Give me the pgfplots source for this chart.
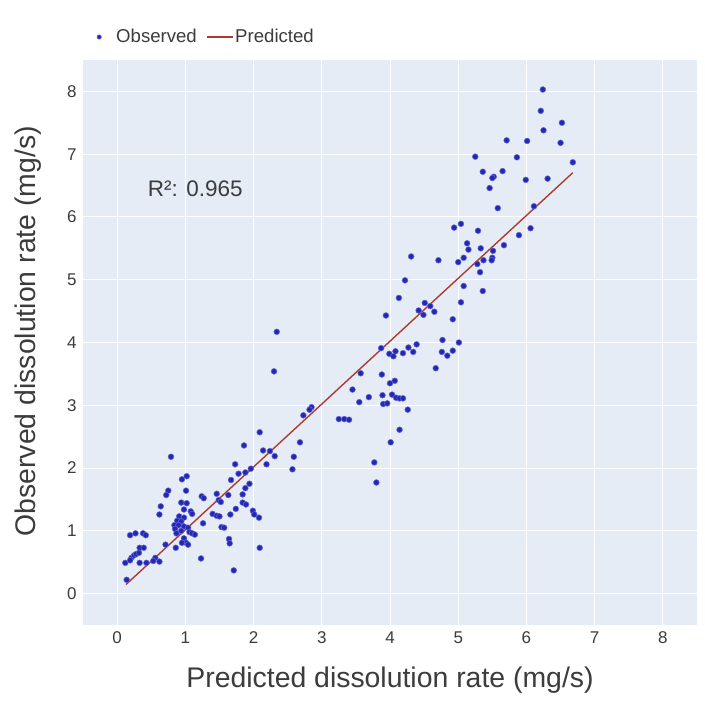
\documentclass[border=0pt]{standalone}
\usepackage{fontspec}
\setmainfont{Liberation Sans}
\usepackage{pgfplots}
\pgfplotsset{compat=1.18}
\definecolor{bgc}{RGB}{229,236,246}
\definecolor{obs}{RGB}{40,40,175}
\definecolor{obsedge}{RGB}{95,105,225}
\definecolor{pred}{RGB}{172,60,50}
\definecolor{txt}{RGB}{60,60,60}
\pgfplotsset{
  obslegend/.style={legend image code/.code={\path[draw=none,fill=none] (-4pt,0pt) -- (15pt,0pt); \path[##1, draw=obsedge, fill=obs, mark size=2.2pt] plot coordinates {(0pt,0pt)};}},
  predlegend/.style={legend image code/.code={\draw[##1] (0pt,0pt) -- (26pt,0pt);}},
}
\begin{document}
\begin{tikzpicture}
\path[use as bounding box, fill=white] (-83pt,-86pt) rectangle (621pt,625pt);
\begin{axis}[
  at={(0pt,0pt)}, anchor=south west,
  width=614pt, height=565pt, scale only axis,
  xmin=-0.5, xmax=8.5, ymin=-0.5, ymax=8.5,
  xtick={0,1,...,8}, ytick={0,1,...,8},
  axis background/.style={fill=bgc},
  axis line style={draw=none},
  major tick length=0pt,
  grid=major,
  major grid style={white, line width=1pt},
  /pgf/number format/assume math mode=true,
  tick label style={font=\fontsize{17}{20}\selectfont, text=txt},
  xticklabel style={yshift=-3pt},
  yticklabel style={xshift=-3pt},
  xlabel={Predicted dissolution rate (mg/s)},
  ylabel={Observed dissolution rate (mg/s)},
  label style={font=\fontsize{28.4}{33}\selectfont, text=txt},
  xlabel style={at={(axis description cs:0.5,-0.097)}, anchor=center},
  ylabel style={at={(axis description cs:-0.0896,0.52)}, anchor=center},
  legend style={at={(axis description cs:0.0,1.02)}, anchor=south west, xshift=9pt, draw=none, fill=none,
    font=\fontsize{18.6}{21}\selectfont, text=txt, legend columns=2,
    /tikz/every even column/.append style={column sep=7pt}},
  legend cell align=left,
  clip=false,
]
\addplot[only marks, mark=*, mark size=2.9pt, color=obs, mark options={fill=obs, draw=obsedge, line width=0.5pt}, obslegend] coordinates {
(6.24,8.03)(6.21,7.69)(6.25,7.38)(6.52,7.50)(6.50,7.18)(6.68,6.87)(6.31,6.61)
(5.71,7.22)(6.01,7.21)(5.86,6.95)(5.99,6.59)(5.25,6.96)(5.36,6.72)(5.65,6.73)
(5.52,6.64)(5.50,6.62)(5.46,6.46)(5.58,6.14)(6.11,6.17)(6.06,5.82)(5.89,5.71)
(5.67,5.55)(4.94,5.83)(5.04,5.89)(5.29,5.78)(5.13,5.58)(5.15,5.48)(5.08,5.35)
(5.00,5.28)(5.33,5.50)(5.37,5.31)(5.28,5.25)(5.51,5.46)(5.50,5.35)(5.49,5.31)
(5.32,5.12)(5.36,4.82)(5.08,4.90)(5.04,4.64)(4.71,5.31)(4.31,5.37)(4.22,4.99)
(4.13,4.71)(3.94,4.43)(4.42,4.51)(4.49,4.44)(4.51,4.63)(4.59,4.58)(4.65,4.49)
(4.92,4.37)(4.77,4.04)(5.01,4.00)(4.76,3.85)(4.84,3.79)(4.92,3.87)(4.67,3.59)
(3.87,3.91)(3.99,3.82)(4.05,3.78)(4.08,3.86)(4.19,3.83)(4.27,3.92)(4.34,3.85)
(4.39,3.97)(3.57,3.51)(3.88,3.49)(4.00,3.35)(4.07,3.39)(3.45,3.25)(3.55,3.05)
(3.69,3.13)(3.89,3.16)(3.90,3.02)(3.96,3.03)(4.03,3.17)(4.09,3.12)(4.14,3.11)
(4.19,3.11)(4.26,2.93)(4.14,2.61)(4.01,2.41)(3.77,2.09)(3.80,1.77)(3.25,2.78)
(3.33,2.78)(3.40,2.77)(2.85,2.97)(2.82,2.93)(2.73,2.84)(2.34,4.17)(2.30,3.54)
(2.68,2.41)(2.59,2.18)(2.57,1.98)(2.09,2.57)(2.14,2.28)(2.24,2.27)(2.31,2.19)
(2.19,2.06)(1.86,2.36)(1.96,1.99)(1.73,2.06)(1.78,1.91)(1.88,1.93)(1.67,1.81)
(1.94,1.75)(1.88,1.68)(1.84,1.58)(1.63,1.57)(1.46,1.59)(1.49,1.49)(1.52,1.46)
(1.74,1.35)(1.84,1.45)(1.89,1.42)(1.99,1.32)(2.01,1.26)(2.08,1.21)(2.09,0.73)
(1.66,1.26)(1.64,0.87)(1.65,0.80)(1.71,0.37)(1.23,0.56)(1.40,1.27)(1.46,1.24)
(1.50,1.23)(1.53,1.06)(1.57,1.05)(1.24,1.55)(1.27,1.52)(1.26,1.12)(0.79,2.18)
(1.02,1.87)(0.95,1.82)(1.01,1.64)(0.75,1.64)(0.72,1.57)(0.64,1.39)(0.62,1.26)
(0.94,1.45)(1.02,1.44)(0.98,1.34)(1.08,1.31)(1.10,1.27)(0.91,1.23)(0.98,1.21)
(0.88,1.16)(0.94,1.15)(0.84,1.09)(0.90,1.09)(0.98,1.07)(1.04,1.05)(0.85,1.03)
(0.94,1.00)(1.06,0.98)(0.87,0.96)(1.10,0.96)(1.14,0.94)(0.98,0.88)(1.01,0.81)
(1.04,0.78)(0.95,0.81)(0.86,0.73)(0.71,0.78)(0.62,0.51)(0.56,0.57)(0.53,0.52)
(0.43,0.49)(0.33,0.49)(0.12,0.49)(0.19,0.93)(0.27,0.96)(0.38,0.96)(0.42,0.93)
(0.33,0.73)(0.39,0.73)(0.21,0.57)(0.25,0.61)(0.28,0.63)(0.32,0.65)(0.19,0.53)
(0.14,0.22)
};
\addlegendentry{Observed}
\addplot[pred, line width=1.4pt, predlegend] coordinates {(0.13,0.145)(6.68,6.705)};
\addlegendentry{Predicted}
\node[anchor=west, font=\fontsize{22.5}{26}\selectfont, text=txt] at (axis cs:0.40,6.45) {R²: 0.965};
\end{axis}
\end{tikzpicture}
\end{document}
